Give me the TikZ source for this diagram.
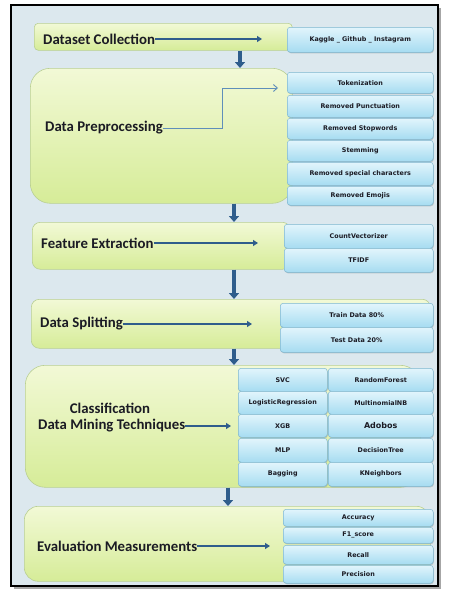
\documentclass[tikz,border=0pt]{standalone}
\usepackage{fontspec}
\setmainfont{Carlito}
\newfontfamily\itemfont{DejaVu Sans}
\usepackage{xcolor}
\usepackage{tikz}
\usetikzlibrary{arrows.meta}
\usetikzlibrary{shadows}

\definecolor{pagebg}{HTML}{DCE8EE}
\definecolor{stagetop}{HTML}{F2F9D6}
\definecolor{stagebot}{HTML}{D6EC98}
\definecolor{stageline}{HTML}{B9CF94}
\definecolor{itemtop}{HTML}{E2F5FC}
\definecolor{itembot}{HTML}{A6DCF1}
\definecolor{itemline}{HTML}{7DB6CF}
\definecolor{flowblue}{HTML}{2F5D8C}
\definecolor{thinblue}{HTML}{5F8FBA}
\definecolor{textdark}{HTML}{1B1B24}

\begin{document}
\begin{tikzpicture}[
  x=1pt, y=-1pt,
  stage/.style={
    draw=stageline, line width=0.6pt,
    top color=stagetop, bottom color=stagebot,
    anchor=north west, inner sep=0pt
  },
  item/.style={
    draw=itemline, line width=0.5pt,
    top color=itemtop, bottom color=itembot,
    rounded corners=3pt, anchor=north west, inner sep=0pt,
    font=\itemfont\bfseries\fontsize{6.4}{7.5}\selectfont, text=textdark,
    drop shadow={shadow xshift=0.6pt, shadow yshift=-1pt, opacity=0.35}
  },
  title/.style={
    anchor=west, inner sep=0pt, text=textdark,
    font=\bfseries\fontsize{14.8}{16}\selectfont
  },
  flow/.style={draw=flowblue, line width=2pt, -{Triangle[length=5pt,width=6pt]}},
  down/.style={draw=flowblue, line width=3.5pt, -{Triangle[length=6pt,width=10pt]}},
  thinflow/.style={draw=thinblue, line width=0.9pt, -{Straight Barb[length=4pt,width=7pt]}}
]

\useasboundingbox (0,0) rectangle (450,589);
\fill[black!35] (14,8) rectangle (441,589);
\draw[line width=2.5pt, fill=pagebg] (11,5) rectangle (438,586);

\node[stage, rounded corners=4pt, minimum width=258pt, minimum height=27pt] (dc) at (34,23) {};
\node[stage, rounded corners=20pt, minimum width=262pt, minimum height=135pt] (dp) at (30,68) {};
\node[stage, rounded corners=8pt, minimum width=258pt, minimum height=47pt] (fe) at (32,222) {};
\node[stage, rounded corners=8pt, minimum width=399pt, minimum height=49pt] (ds) at (31,299) {};
\node[stage, rounded corners=20pt, minimum width=395pt, minimum height=122pt] (cl) at (25,365) {};
\node[stage, rounded corners=14pt, minimum width=406pt, minimum height=75pt] (ev) at (24,506) {};

\node[item, minimum width=146pt, minimum height=25pt] (kag) at (287,27) {Kaggle \_ Github \_ Instagram};

\node[item, minimum width=146pt, minimum height=21pt] (tok) at (287,72) {Tokenization};
\node[item, minimum width=146pt, minimum height=22pt] (pun) at (287,95) {Removed Punctuation};
\node[item, minimum width=146pt, minimum height=21pt] (stw) at (287,118) {Removed Stopwords};
\node[item, minimum width=146pt, minimum height=21pt] (stm) at (287,140) {Stemming};
\node[item, minimum width=146pt, minimum height=23pt] (spc) at (287,162) {Removed special characters};
\node[item, minimum width=146pt, minimum height=19pt] (emo) at (287,186) {Removed Emojis};

\node[item, minimum width=149pt, minimum height=24pt] (cvz) at (284,224) {CountVectorizer};
\node[item, minimum width=149pt, minimum height=24pt] (tfi) at (284,248) {TFIDF};

\node[item, minimum width=153pt, minimum height=24pt] (trn) at (280,303) {Train Data 80\%};
\node[item, minimum width=153pt, minimum height=25pt] (tst) at (280,327) {Test Data 20\%};

\node[item, minimum width=89pt, minimum height=23pt] (svc) at (238,368) {SVC};
\node[item, minimum width=89pt, minimum height=23pt] (lgr) at (238,391) {LogisticRegression};
\node[item, minimum width=89pt, minimum height=23pt] (xgb) at (238,414) {XGB};
\node[item, minimum width=89pt, minimum height=24pt] (mlp) at (238,438) {MLP};
\node[item, minimum width=89pt, minimum height=24pt] (bag) at (238,462) {Bagging};
\node[item, minimum width=105pt, minimum height=23pt] (rfo) at (328,368) {RandomForest};
\node[item, minimum width=105pt, minimum height=23pt] (mnb) at (328,391) {MultinomialNB};
\node[item, minimum width=105pt, minimum height=23pt, font=\itemfont\bfseries\fontsize{8}{9}\selectfont] (ada) at (328,414) {Adobos};
\node[item, minimum width=105pt, minimum height=24pt] (dtr) at (328,438) {DecisionTree};
\node[item, minimum width=105pt, minimum height=24pt] (knn) at (328,462) {KNeighbors};

\node[item, minimum width=150pt, minimum height=17pt] (acc) at (283,509) {Accuracy};
\node[item, minimum width=150pt, minimum height=16pt] (fsc) at (283,527) {F1\_score};
\node[item, minimum width=150pt, minimum height=19pt] (rec) at (283,545) {Recall};
\node[item, minimum width=150pt, minimum height=18pt] (pre) at (283,565) {Precision};

\node[title] (dct) at (43,39) {Dataset Collection};
\node[title] (dpt) at (45,128) {Data Preprocessing};
\node[title] (fet) at (41,243) {Feature Extraction};
\node[title] (dst) at (40,324) {Data Splitting};
\node[title, anchor=center] (clt) at (110,408) {Classification};
\node[title] (cmt) at (38,426) {Data Mining Techniques};
\node[title] (evt) at (37,546) {Evaluation Measurements};

\coordinate (dce) at (262,40);
\coordinate (dpk) at (222,88);
\coordinate (dpe) at (278,88);
\coordinate (fee) at (258,244);
\coordinate (dse) at (252,324);
\coordinate (cle) at (231,426);
\coordinate (eve) at (270,546);

\draw[flow] (dct.east) -- (dct.east -| dce);
\draw[thinflow] (dpt.east) -- (dpt.east -| dpk) -- (dpk) -- (dpe);
\draw[flow] (fet.east) -- (fet.east -| fee);
\draw[flow] (dst.east) -- (dst.east -| dse);
\draw[flow] (cmt.east) -- (cmt.east -| cle);
\draw[flow] (evt.east) -- (evt.east -| eve);

\coordinate (a1) at (240,0);
\coordinate (a2) at (234,0);
\coordinate (a3) at (234,0);
\coordinate (a4) at (234,0);
\coordinate (a5) at (228,0);

\draw[down] (a1 |- dc.south) -- (a1 |- dp.north);
\draw[down] (a2 |- dp.south) -- (a2 |- fe.north);
\draw[down] (a3 |- fe.south) -- (a3 |- ds.north);
\draw[down] (a4 |- ds.south) -- (a4 |- cl.north);
\draw[down] (a5 |- cl.south) -- (a5 |- ev.north);

\end{tikzpicture}
\end{document}
